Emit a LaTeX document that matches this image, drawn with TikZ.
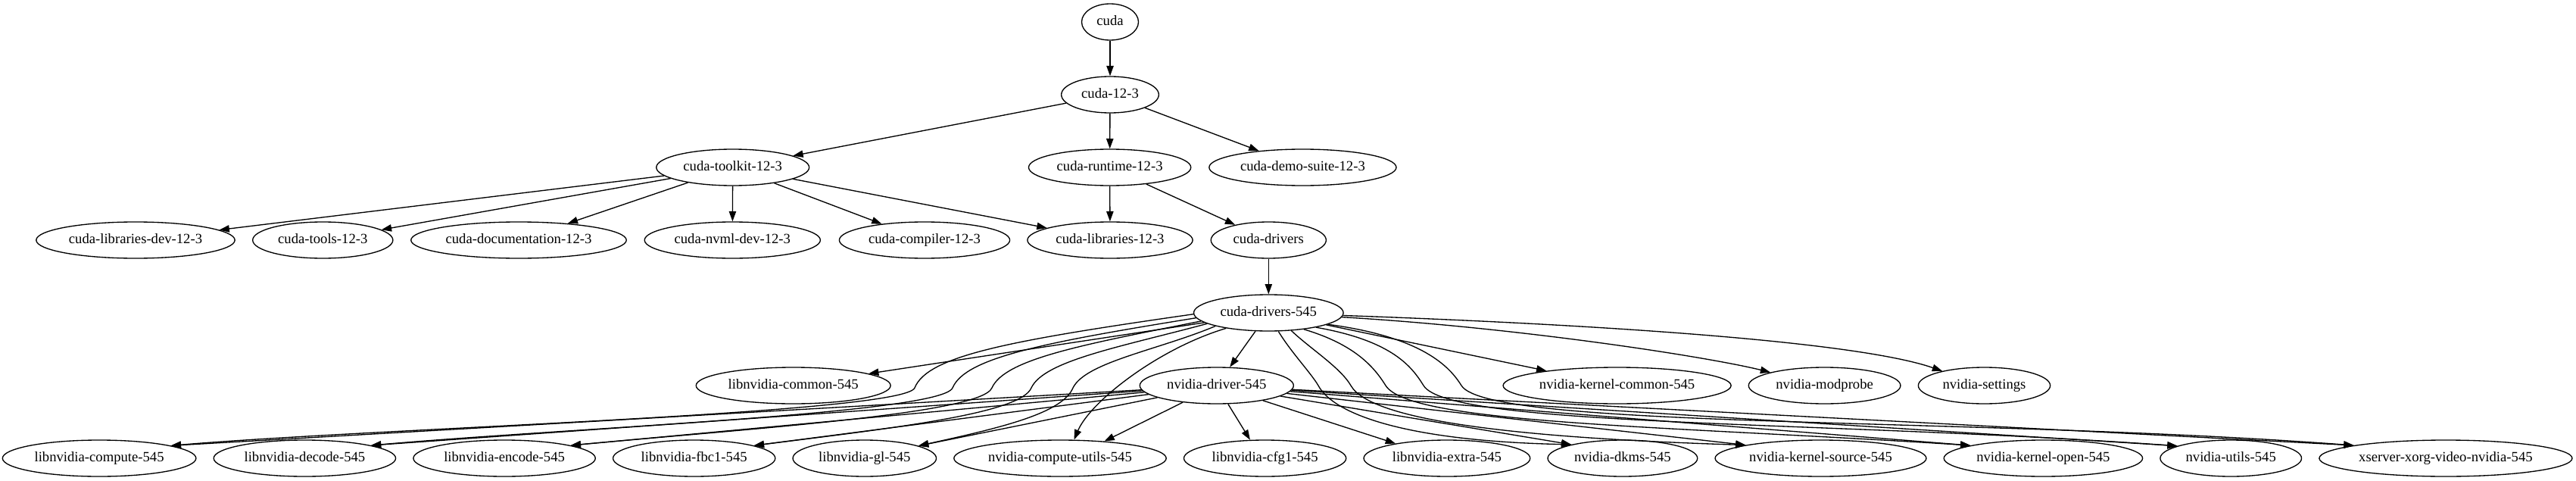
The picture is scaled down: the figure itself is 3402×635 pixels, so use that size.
\documentclass[tikz,border=0pt]{standalone}
\usepackage{fontspec}
\setmainfont{Liberation Serif}
\usetikzlibrary{arrows.meta,shapes.geometric}
\begin{document}
\begin{tikzpicture}[x=0.75pt,y=-0.75pt,
  nd/.style={draw, ellipse, line width=1pt, inner sep=0pt, minimum height=36pt,
    text height=9.5pt, text depth=3pt, font=\fontsize{14}{16}\selectfont},
  arr/.style={line width=1pt, -{Triangle[length=10pt,width=7pt]}}]
\useasboundingbox (0,0) rectangle (3402,635);
% rank 0-3
\node[nd, minimum width=56.25pt] (cuda) at (1466,29) {cuda};
\node[nd, minimum width=96.5pt] (c123) at (1466,125) {cuda-12-3};
\node[nd, minimum width=151.4pt] (toolkit) at (967.7,221) {cuda-toolkit-12-3};
\node[nd, minimum width=160.7pt] (runtime) at (1465.6,221) {cuda-runtime-12-3};
\node[nd, minimum width=185.4pt] (demo) at (1720.4,221) {cuda-demo-suite-12-3};
\node[nd, minimum width=196.8pt] (libdev) at (179,317) {cuda-libraries-dev-12-3};
\node[nd, minimum width=138.9pt] (tools) at (426.3,317) {cuda-tools-12-3};
\node[nd, minimum width=213.4pt] (doc) at (685,317) {cuda-documentation-12-3};
\node[nd, minimum width=174.1pt] (nvml) at (967.3,317) {cuda-nvml-dev-12-3};
\node[nd, minimum width=168.9pt] (compiler) at (1221,317) {cuda-compiler-12-3};
\node[nd, minimum width=163.7pt] (libs) at (1466,317) {cuda-libraries-12-3};
\node[nd, minimum width=114.1pt] (drivers) at (1675.3,317) {cuda-drivers};
% rank 4-5
\node[nd, minimum width=148.2pt] (d545) at (1675.3,413) {cuda-drivers-545};
\node[nd, minimum width=192.7pt] (common) at (1047.7,509) {libnvidia-common-545};
\node[nd, minimum width=152.3pt] (ndrv) at (1606.8,509) {nvidia-driver-545};
\node[nd, minimum width=225.8pt] (kcommon) at (2135.6,509) {nvidia-kernel-common-545};
\node[nd, minimum width=150.5pt] (modprobe) at (2409.6,509) {nvidia-modprobe};
\node[nd, minimum width=130.7pt] (settings) at (2620.5,509) {nvidia-settings};
% rank 6
\node[nd, minimum width=191.7pt] (compute) at (131.1,605) {libnvidia-compute-545};
\node[nd, minimum width=180.3pt] (decode) at (402.4,605) {libnvidia-decode-545};
\node[nd, minimum width=180.3pt] (encode) at (666.1,605) {libnvidia-encode-545};
\node[nd, minimum width=160.7pt] (fbc1) at (916.7,605) {libnvidia-fbc1-545};
\node[nd, minimum width=142.1pt] (gl) at (1141.8,605) {libnvidia-gl-545};
\node[nd, minimum width=210.3pt] (cutils) at (1400,605) {nvidia-compute-utils-545};
\node[nd, minimum width=160.7pt] (cfg1) at (1670.6,605) {libnvidia-cfg1-545};
\node[nd, minimum width=164.8pt] (extra) at (1910.9,605) {libnvidia-extra-545};
\node[nd, minimum width=148.3pt] (dkms) at (2142.9,605) {nvidia-dkms-545};
\node[nd, minimum width=209.2pt] (ksource) at (2404.5,605) {nvidia-kernel-source-545};
\node[nd, minimum width=196.8pt] (kopen) at (2698.4,605) {nvidia-kernel-open-545};
\node[nd, minimum width=140pt] (utils) at (2946.2,605) {nvidia-utils-545};
\node[nd, minimum width=250.6pt] (xserver) at (3229.9,605) {xserver-xorg-video-nvidia-545};
% upper edges
\draw[arr] (cuda) -- (c123);
\draw[arr] (c123) -- (toolkit);
\draw[arr] (c123) -- (runtime);
\draw[arr] (c123) -- (demo);
\draw[arr] (toolkit) -- (libdev);
\draw[arr] (toolkit) -- (tools);
\draw[arr] (toolkit) -- (doc);
\draw[arr] (toolkit) -- (nvml);
\draw[arr] (toolkit) -- (compiler);
\draw[arr] (toolkit) -- (libs);
\draw[arr] (runtime) -- (libs);
\draw[arr] (runtime) -- (drivers);
\draw[arr] (drivers) -- (d545);
% cuda-drivers-545 to rank 5
\draw[arr] (d545) -- (common.9);
\draw[arr] (d545) -- (ndrv);
\draw[arr] (d545) -- (kcommon);
\draw[arr] (d545) .. controls (2000,432) and (2250,470) .. (modprobe);
\draw[arr] (d545) .. controls (2100,428) and (2450,450) .. (settings);
% cuda-drivers-545 to rank 6 (left)
\draw[arr] (d545.181) .. controls (1330,450) and (1225,470) .. (1208,512) .. controls (1194,546) and (500,565) .. (compute.10);
\draw[arr] (d545.184) .. controls (1380,452) and (1275,472) .. (1258,512) .. controls (1244,546) and (750,565) .. (decode.11);
\draw[arr] (d545.187) .. controls (1430,455) and (1327,474) .. (1310,512) .. controls (1296,546) and (1000,565) .. (encode.11);
\draw[arr] (d545.190) .. controls (1480,458) and (1379,476) .. (1362,512) .. controls (1348,546) and (1180,565) .. (fbc1.12);
\draw[arr] (d545.194) .. controls (1530,462) and (1434,478) .. (1417,512) .. controls (1403,546) and (1320,565) .. (gl.13);
\draw[arr] (d545.200) .. controls (1530,460) and (1440,530) .. (cutils.53);
% cuda-drivers-545 to rank 6 (right)
\draw[arr] (d545.-62) .. controls (1705,465) and (1731,492) .. (1741,509) .. controls (1760,545) and (1850,582) .. (dkms.165);
\draw[arr] (d545.-38) .. controls (1730,460) and (1770,485) .. (1784,509) .. controls (1810,555) and (2000,578) .. (ksource.170);
\draw[arr] (d545.-25) .. controls (1790,455) and (1815,485) .. (1830,509) .. controls (1862,560) and (2200,562) .. (kopen.170);
\draw[arr] (d545.-17) .. controls (1840,450) and (1865,485) .. (1880,509) .. controls (1914,564) and (2400,555) .. (utils.167);
\draw[arr] (d545.-11) .. controls (1880,445) and (1915,485) .. (1930,509) .. controls (1966,567) and (2600,550) .. (xserver.172.5);
% nvidia-driver-545 to rank 6
\draw[arr] (ndrv) -- (compute.10);
\draw[arr] (ndrv) -- (decode.11);
\draw[arr] (ndrv) -- (encode.11);
\draw[arr] (ndrv) -- (fbc1.12);
\draw[arr] (ndrv) -- (gl.13);
\draw[arr] (ndrv) -- (cutils.21);
\draw[arr] (ndrv) -- (cfg1.129);
\draw[arr] (ndrv) -- (extra.164);
\draw[arr] (ndrv) -- (dkms.165);
\draw[arr] (ndrv) -- (ksource.170);
\draw[arr] (ndrv) -- (kopen.170);
\draw[arr] (ndrv) -- (utils.167);
\draw[arr] (ndrv) -- (xserver.172.5);
\end{tikzpicture}
\end{document}
